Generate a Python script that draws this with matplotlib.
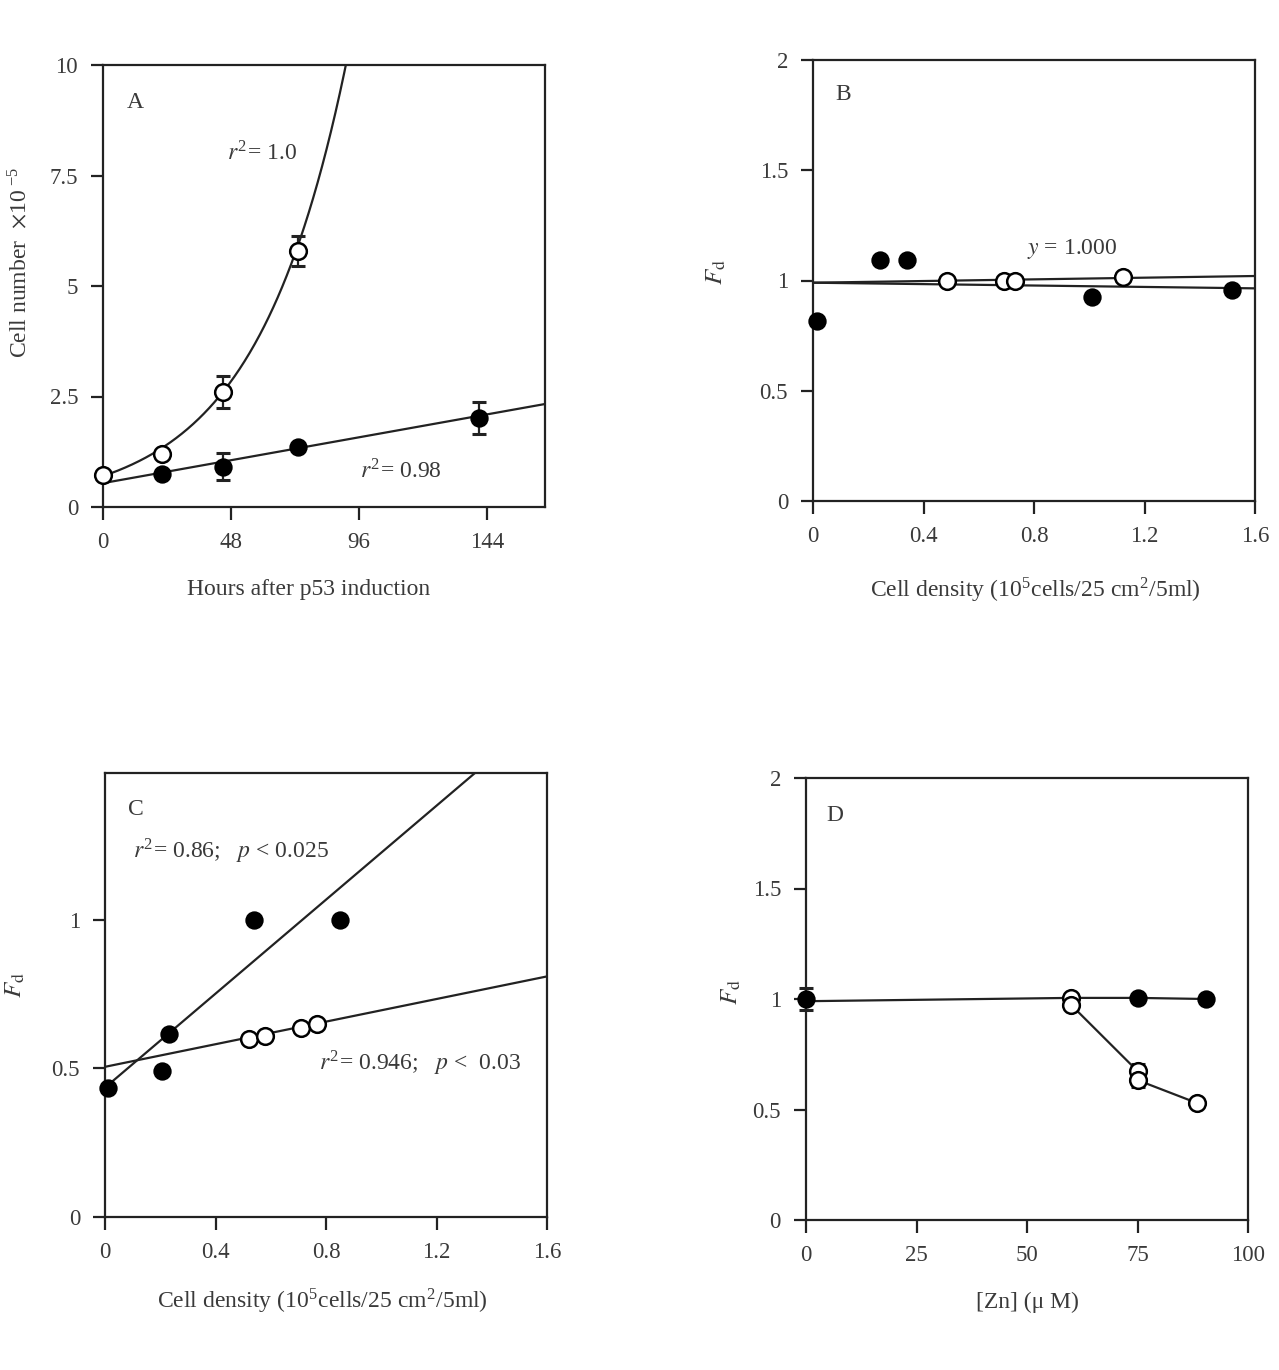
import numpy as np
import matplotlib
matplotlib.use("Agg")
import matplotlib.pyplot as plt

plt.rcParams['font.family'] = ['Liberation Serif', 'DejaVu Serif']
plt.rcParams['mathtext.fontset'] = 'stix'

# ---------------- Panel A data ----------------
a_open_x = [0, 22, 45, 73]
a_open_y = [0.73, 1.2, 2.6, 5.8]
a_open_err = [0, 0, 0.36, 0.34]
a_fill_x = [22, 45, 73, 141]
a_fill_y = [0.74, 0.91, 1.35, 2.01]
a_fill_err = [0, 0.31, 0, 0.36]
a_exp_fit = (0.70, 0.0292)      # y = a*exp(b*x)
a_lin_fit = (0.54, 0.0108)      # y = c + m*x
a_xticks = [0, 48, 96, 144]
a_yticks = [0, 2.5, 5, 7.5, 10]
a_yticklabels = ['0', '2.5', '5', '7.5', '10']

# ---------------- Panel B data ----------------
b_fill_x = [0.014, 0.243, 0.34, 1.01, 1.517]
b_fill_y = [0.816, 1.093, 1.093, 0.925, 0.957]
b_open_x = [0.485, 0.69, 0.73, 1.122]
b_open_y = [1.0, 1.0, 1.0, 1.016]
b_open_fit = (0.99, 0.019)
b_fill_fit = (0.99, -0.016)

# ---------------- Panel C data ----------------
c_fill_x = [0.011, 0.206, 0.232, 0.539, 0.851]
c_fill_y = [0.434, 0.491, 0.616, 1.0, 1.0]
c_open_x = [0.521, 0.579, 0.71, 0.767]
c_open_y = [0.599, 0.609, 0.636, 0.649]
c_fill_fit = (0.435, 0.79)
c_open_fit = (0.505, 0.19)

# ---------------- Panel D data ----------------
d_fill_x = [0, 75, 90.5]
d_fill_y = [1.0, 1.005, 1.0]
d_fill_err = [0.05, 0, 0]
d_open_x = [60, 60, 75, 75, 88.5]
d_open_y = [1.005, 0.973, 0.674, 0.633, 0.529]
d_open_err = [0, 0, 0.03, 0.03, 0]

cell_ticks = [0, 0.4, 0.8, 1.2, 1.6]
cell_ticklabels = ['0', '0.4', '0.8', '1.2', '1.6']
fd_ticks = [0, 0.5, 1, 1.5, 2]
fd_ticklabels = ['0', '0.5', '1', '1.5', '2']

W, H = 1279, 1370
fig = plt.figure(figsize=(W / 100, H / 100), dpi=100)

TXT = '#3a3a3a'
FS = 17
TFS = 16.5


def make_ax(left, top, right, bottom):
    ax = fig.add_axes([left / W, 1 - bottom / H, (right - left) / W, (bottom - top) / H])
    for s in ax.spines.values():
        s.set_linewidth(1.6)
        s.set_color('#222222')
    ax.tick_params(direction='out', length=9, width=1.6, color='#222222',
                   labelsize=TFS, labelcolor=TXT, pad=9)
    return ax


MS = 12


def filled(ax, x, y, err=None):
    if err is not None:
        ax.errorbar(x, y, yerr=err, fmt='none', ecolor='#222222', elinewidth=1.6,
                    capsize=5, capthick=2.2, zorder=3, clip_on=False)
    ax.plot(x, y, 'o', ms=MS, mfc='black', mec='black', mew=1.2, zorder=4, clip_on=False)


def opened(ax, x, y, err=None):
    if err is not None:
        ax.errorbar(x, y, yerr=err, fmt='none', ecolor='#222222', elinewidth=1.6,
                    capsize=5, capthick=2.2, zorder=3, clip_on=False)
    ax.plot(x, y, 'o', ms=MS, mfc='white', mec='black', mew=1.8, zorder=5, clip_on=False)


LW = 1.6

# ---------------- Panel A ----------------
axA = make_ax(103, 65, 545, 507)
axA.set_xlim(0, 165.75)
axA.set_ylim(0, 10)
xx = np.linspace(0, 95, 400)
axA.plot(xx, a_exp_fit[0] * np.exp(a_exp_fit[1] * xx), color='#222222', lw=LW, zorder=2)
xl = np.array([0, 165.75])
axA.plot(xl, a_lin_fit[0] + a_lin_fit[1] * xl, color='#222222', lw=LW, zorder=2)
filled(axA, a_fill_x, a_fill_y, a_fill_err)
opened(axA, a_open_x, a_open_y, a_open_err)
axA.set_xticks(a_xticks)
axA.set_yticks(a_yticks)
axA.set_yticklabels(a_yticklabels)
axA.text(9.0, 9.15, 'A', fontsize=FS, color=TXT, va='center', ha='left')
axA.text(46.5, 8.0, r'$r^{\mathregular{2}}$= 1.0', fontsize=FS, color=TXT, va='center', ha='left')
axA.text(96.5, 0.8, r'$r^{\mathregular{2}}$= 0.98', fontsize=FS, color=TXT, va='center', ha='left')
fig.text(309 / W, 1 - 590 / H, 'Hours after p53 induction', fontsize=FS, color=TXT,
         ha='center', va='center')
fig.text(20 / W, 1 - 262 / H, r'Cell number  $\times$10$^{\ \mathregular{-5}}$', fontsize=FS,
         color=TXT, ha='center', va='center', rotation=90)

# ---------------- Panel B ----------------
axB = make_ax(813, 60, 1255, 501)
axB.set_xlim(0, 1.6)
axB.set_ylim(0, 2)
xl = np.array([0, 1.6])
axB.plot(xl, b_open_fit[0] + b_open_fit[1] * xl, color='#222222', lw=LW, zorder=2)
axB.plot(xl, b_fill_fit[0] + b_fill_fit[1] * xl, color='#222222', lw=LW, zorder=2)
filled(axB, b_fill_x, b_fill_y)
opened(axB, b_open_x, b_open_y)
axB.set_xticks(cell_ticks)
axB.set_xticklabels(cell_ticklabels)
axB.set_yticks(fd_ticks)
axB.set_yticklabels(fd_ticklabels)
axB.text(0.11, 1.845, 'B', fontsize=FS, color=TXT, va='center', ha='center')
axB.text(0.775, 1.145, r'$y$ = 1.000', fontsize=FS, color=TXT, va='center', ha='left')
fig.text(1035 / W, 1 - 590 / H, r'Cell density (10$^{\mathregular{5}}$cells/25 cm$^{\mathregular{2}}$/5ml)',
         fontsize=FS, color=TXT, ha='center', va='center')
fig.text(716 / W, 1 - 272 / H, r'$F_{\mathrm{d}}$', fontsize=FS + 1, color=TXT,
         ha='center', va='center', rotation=90)

# ---------------- Panel C ----------------
axC = make_ax(105, 773, 547, 1217)
axC.set_xlim(0, 1.6)
axC.set_ylim(0, 1.493)
xs = np.array([0, 1.6])
axC.plot(xs, c_fill_fit[0] + c_fill_fit[1] * xs, color='#222222', lw=LW, zorder=2)
axC.plot(xs, c_open_fit[0] + c_open_fit[1] * xs, color='#222222', lw=LW, zorder=2)
filled(axC, c_fill_x, c_fill_y)
opened(axC, c_open_x, c_open_y)
axC.set_xticks(cell_ticks)
axC.set_xticklabels(cell_ticklabels)
axC.set_yticks([0, 0.5, 1])
axC.set_yticklabels(['0', '0.5', '1'])
axC.text(0.11, 1.37, 'C', fontsize=FS, color=TXT, va='center', ha='center')
axC.text(0.1, 1.228, r'$r^{\mathregular{2}}$= 0.86;   $p$ < 0.025', fontsize=FS, color=TXT,
         va='center', ha='left')
axC.text(0.775, 0.515, r'$r^{\mathregular{2}}$= 0.946;   $p$ <  0.03', fontsize=FS, color=TXT,
         va='center', ha='left')
fig.text(322 / W, 1 - 1301 / H, r'Cell density (10$^{\mathregular{5}}$cells/25 cm$^{\mathregular{2}}$/5ml)',
         fontsize=FS, color=TXT, ha='center', va='center')
fig.text(15 / W, 1 - 985 / H, r'$F_{\mathrm{d}}$', fontsize=FS + 1, color=TXT,
         ha='center', va='center', rotation=90)

# ---------------- Panel D ----------------
axD = make_ax(806, 778, 1248, 1220)
axD.set_xlim(0, 100)
axD.set_ylim(0, 2)
axD.plot([0, 60] + d_fill_x[1:], [0.99, d_open_y[0]] + d_fill_y[1:], color='#222222',
         lw=LW, zorder=2)
axD.plot(d_open_x[1:], d_open_y[1:], color='#222222', lw=LW, zorder=2)
opened(axD, d_open_x, d_open_y, d_open_err)
filled(axD, d_fill_x, d_fill_y, d_fill_err)
axD.set_xticks([0, 25, 50, 75, 100])
axD.set_yticks(fd_ticks)
axD.set_yticklabels(fd_ticklabels)
axD.text(6.6, 1.83, 'D', fontsize=FS, color=TXT, va='center', ha='center')
fig.text(1027 / W, 1 - 1302 / H, '[Zn] (\u03bc M)', fontsize=FS, color=TXT,
         ha='center', va='center')
fig.text(731 / W, 1 - 992 / H, r'$F_{\mathrm{d}}$', fontsize=FS + 1, color=TXT,
         ha='center', va='center', rotation=90)

fig.savefig('out.png', dpi=100)
